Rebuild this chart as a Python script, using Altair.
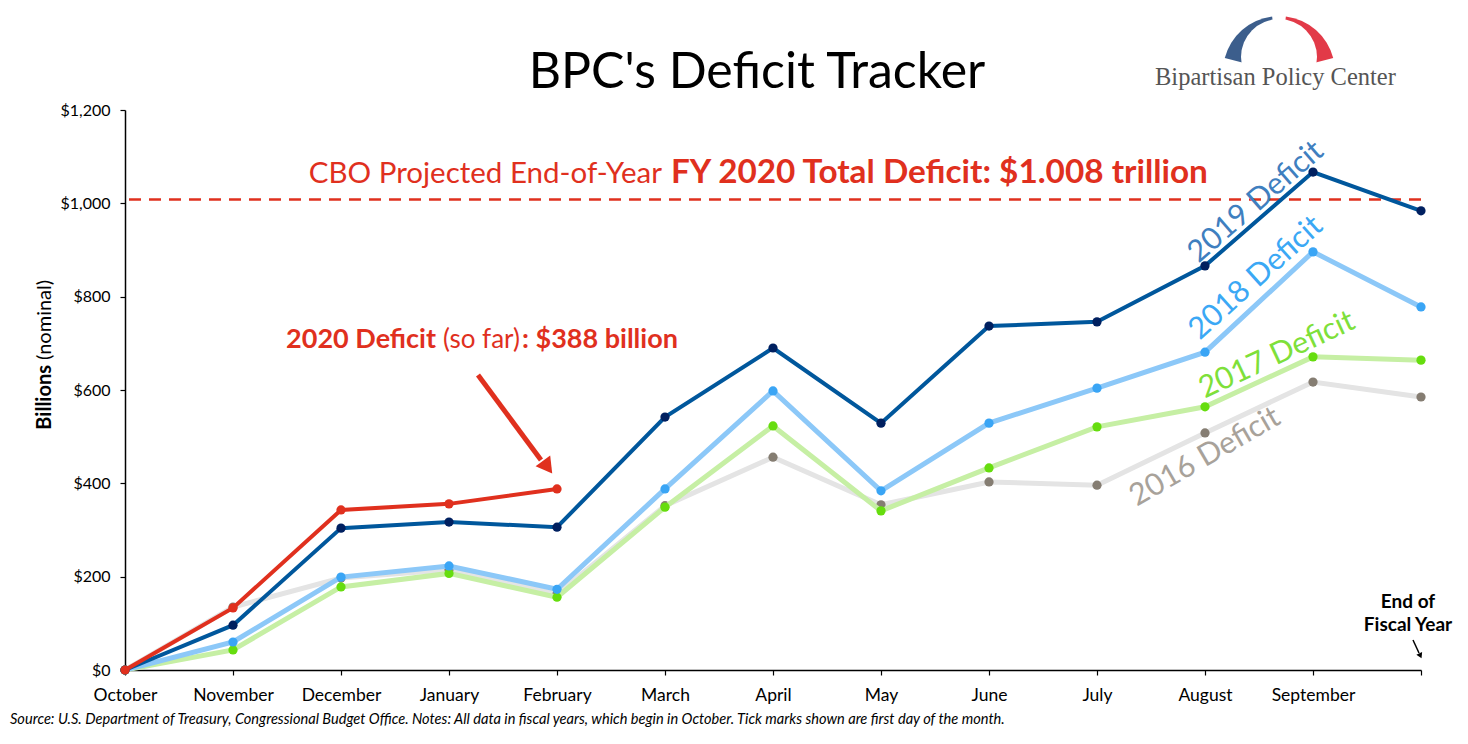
import json
import altair as alt
import pandas as pd

# ---------------- data ----------------
months = ["October", "November", "December", "January", "February", "March",
          "April", "May", "June", "July", "August", "September", ""]
fy2016 = [0, 135, 197, 215, 163, 352, 456, 354, 403, 396, 508, 617, 585]
fy2017 = [0, 43, 178, 207, 156, 349, 523, 341, 433, 521, 564, 671, 664]
fy2018 = [0, 60, 199, 223, 173, 388, 598, 384, 529, 604, 681, 896, 778]
fy2019 = [0, 96, 304, 317, 306, 542, 690, 529, 737, 746, 866, 1067, 984]
fy2020 = [0, 133, 343, 356, 388]
cbo_projection = [1008]
y_ticks = [0, 200, 400, 600, 800, 1000, 1200]

FONT = "Lato"
RED = "#e0301e"

x_axis = alt.Axis(values=list(range(len(months))),
                  labelExpr=json.dumps(months) + "[datum.value]",
                  title=None, grid=False, tickSize=5, tickColor="black",
                  domainColor="black", domainWidth=1.5, tickWidth=1.2,
                  labelFontSize=17.5, labelFont=FONT, labelColor="black",
                  labelPadding=11, labelFlush=False, labelOverlap=False)
y_axis = alt.Axis(values=y_ticks,
                  labelExpr="'$' + format(datum.value, ',')",
                  title=None, grid=False, tickSize=5, tickColor="black",
                  domainColor="black", domainWidth=1.5, tickWidth=1.2,
                  labelFontSize=16, labelFont=FONT, labelColor="black",
                  labelPadding=10, labelFlush=False, labelOverlap=False)
x_scale = alt.Scale(domain=[0, 12], nice=False, zero=False)
y_scale = alt.Scale(domain=[0, 1200], nice=False)


def xenc():
    return alt.X("idx:Q", scale=x_scale, axis=x_axis)


def yenc(field="value"):
    return alt.Y(f"{field}:Q", scale=y_scale, axis=y_axis)


series = [
    (fy2016, "#e4e4e4", "#857d72", 5),
    (fy2017, "#c6efa4", "#66dd0e", 5),
    (fy2018, "#8cc8f8", "#3aa5f5", 5),
    (fy2019, "#00579c", "#002060", 4),
    (fy2020, RED, RED, 4),
]

layers = []
for vals, lc, pc, w in series:
    df = pd.DataFrame({"idx": list(range(len(vals))), "value": vals})
    base = alt.Chart(df)
    layers.append(base.mark_line(color=lc, strokeWidth=w).encode(x=xenc(), y=yenc()))
    layers.append(base.mark_circle(color=pc, size=85, opacity=1).encode(x=xenc(), y=yenc()))

# CBO projection dashed rule
cbo_df = pd.DataFrame({"v": cbo_projection})
rule = alt.Chart(cbo_df).mark_rule(color=RED, strokeDash=[12, 8], strokeWidth=2.5).encode(y=yenc("v"))

dummy = pd.DataFrame({"_": [0]})


def text(t, x, y, size, color="black", weight="normal", align="left",
         baseline="alphabetic", angle=0, font=FONT, style="normal", lb=None,
         lh=None):
    kw = dict(fontSize=size, color=color, fontWeight=weight, align=align,
              baseline=baseline, angle=angle, font=font, fontStyle=style)
    if lb:
        kw["lineBreak"] = lb
    if lh:
        kw["lineHeight"] = lh
    return alt.Chart(dummy).mark_text(**kw).encode(
        x=alt.value(x), y=alt.value(y), text=alt.value(t))


ann = [
    # title
    text("BPC's Deficit Tracker", 632, -22, 50, align="center"),
    # y-axis title
    text("Billions", -80, 255, 20, weight="bold", align="right",
         baseline="middle", angle=270),
    text("(nominal)", -80, 250, 20, align="left", baseline="middle", angle=270),
    # CBO annotation
    text("CBO Projected End-of-Year", 537, 73, 29.5, color=RED, align="right"),
    text("FY 2020 Total Deficit: $1.008 trillion", 546, 73, 33.3, color=RED,
         weight="bold"),
    # 2020 annotation
    text("2020 Deficit", 311, 238, 27, color=RED, weight="bold", align="right"),
    text("(so far)", 318, 238, 26, color=RED),
    text(": $388 billion", 397, 238, 27, color=RED, weight="bold"),
    # series labels
    text("2019 Deficit", 1131, 92, 30.5, color="#3f7fbf", align="center",
         baseline="middle", angle=319),
    text("2018 Deficit", 1131, 168, 30.5, color="#3ba8f5", align="center",
         baseline="middle", angle=318),
    text("2017 Deficit", 1152, 245, 30.5, color="#7ee03a", align="center",
         baseline="middle", angle=335),
    text("2016 Deficit", 1080, 347, 30.5, color="#a8a29a", align="center",
         baseline="middle", angle=330),
    # end of fiscal year
    text("End of\nFiscal Year", 1283, 498, 19, weight="bold", align="center",
         lb="\n", lh=23),
    # source
    text("Source: U.S. Department of Treasury, Congressional Budget Office. "
         "Notes: All data in fiscal years, which begin in October. "
         "Tick marks shown are first day of the month.",
         -115, 614, 14.6, style="italic"),
]

# red arrow
arrow_line = alt.Chart(dummy).mark_rule(color=RED, strokeWidth=5).encode(
    x=alt.value(353), y=alt.value(265), x2=alt.value(416), y2=alt.value(350))
arrow_head = alt.Chart(dummy).mark_point(shape="triangle", filled=True, opacity=1,
                                         color=RED, size=330, angle=143.6).encode(
    x=alt.value(421), y=alt.value(355))
# small black arrow
small_line = alt.Chart(dummy).mark_rule(color="black", strokeWidth=1.5).encode(
    x=alt.value(1288), y=alt.value(530), x2=alt.value(1294), y2=alt.value(543))
small_head = alt.Chart(dummy).mark_point(shape="triangle", filled=True, opacity=1,
                                         color="black", size=40, angle=155).encode(
    x=alt.value(1295), y=alt.value(545))

# logo: two tapered arcs (outer slices cut by a white disc), then the name
LX, LY = 1154, -38
arc_blue = alt.Chart(dummy).mark_arc(color="#3c5e8c", radius=56,
                                     theta=4.965, theta2=6.16).encode(
    x=alt.value(LX), y=alt.value(LY))
arc_red = alt.Chart(dummy).mark_arc(color="#e23a48", radius=56,
                                    theta=0.123, theta2=1.318).encode(
    x=alt.value(LX), y=alt.value(LY))
arc_cut = alt.Chart(dummy).mark_arc(color="white", radius=38,
                                    theta=0, theta2=6.2832).encode(
    x=alt.value(LX), y=alt.value(LY - 15))
logo_text = text("Bipartisan Policy Center", 1030, -25, 24.5, color="#555555",
                 font="Liberation Serif")

chart = alt.layer(rule, *layers, *ann, arrow_line, arrow_head, small_line,
                  small_head, arc_blue, arc_red, arc_cut, logo_text).properties(
    width=1296, height=560,
    padding={"left": 117, "top": 102, "right": 39, "bottom": 66},
    autosize=alt.AutoSizeParams(type="none"),
    background="white",
).configure_view(stroke=None)

chart.save("out.html", embed_options={"renderer": "svg", "actions": False})
